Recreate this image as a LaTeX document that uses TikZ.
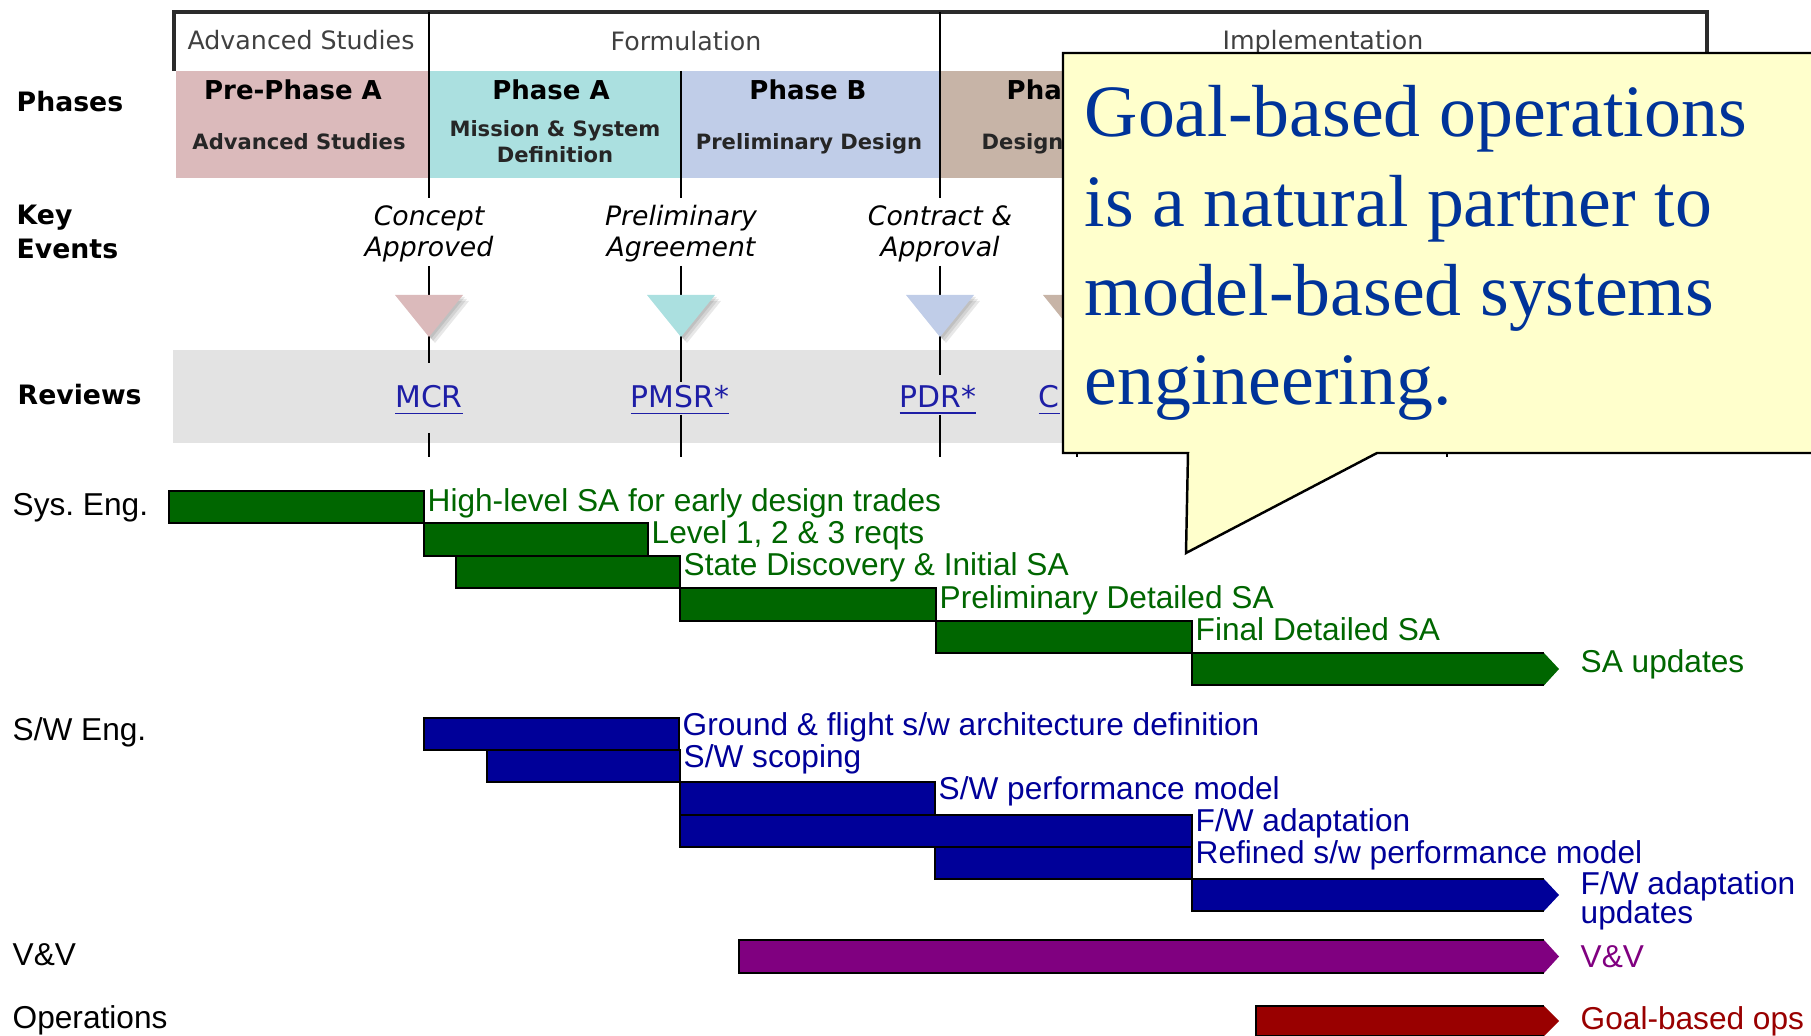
\documentclass[tikz,border=0pt]{standalone}
\usepackage{fontspec}
\setmainfont{Liberation Sans}
\newfontfamily\hdfont{DejaVu Sans}
\newfontfamily\callfont{Liberation Serif}
\definecolor{prephase}{HTML}{DBBABB}
\definecolor{phasea}{HTML}{ABE0E0}
\definecolor{phaseb}{HTML}{C0CDE8}
\definecolor{phasec}{HTML}{C7B4A7}
\definecolor{revgray}{HTML}{E3E3E3}
\definecolor{revblue}{HTML}{1E1EA6}
\definecolor{hdline}{HTML}{2B2B2B}
\definecolor{sysgreen}{HTML}{006600}
\definecolor{swblue}{HTML}{000099}
\definecolor{vvpurple}{HTML}{800080}
\definecolor{opsred}{HTML}{990000}
\definecolor{callfill}{HTML}{FFFFCC}
\definecolor{callink}{HTML}{003399}
\usepackage{tikz}

\begin{document}
\begin{tikzpicture}[
  x=0.1mm, y=-0.1mm,
  hdr/.style={font=\hdfont\fontsize{7.2}{8}\selectfont, text=black!75, anchor=base, inner sep=0pt},
  phase/.style={font=\hdfont\bfseries\fontsize{7.4}{8}\selectfont, anchor=base, inner sep=0pt},
  sub/.style={font=\hdfont\bfseries\fontsize{6}{7}\selectfont, text=black!85, anchor=base, inner sep=0pt},
  rowhd/.style={font=\hdfont\bfseries\fontsize{7.6}{8}\selectfont, anchor=base west, inner sep=0pt},
  event/.style={font=\hdfont\itshape\fontsize{7.6}{8}\selectfont, anchor=base, inner sep=0pt},
  review/.style={font=\hdfont\fontsize{8.5}{9}\selectfont, text=revblue, anchor=base, inner sep=0pt},
  evline/.style={line width=0.8pt},
  lbl/.style={font=\fontsize{9}{10}\selectfont, anchor=base west, inner sep=0pt},
  bar/.style={fill=#1, draw=black, line width=0.6pt},
  calltxt/.style={font=\callfont\fontsize{21}{25}\selectfont, text=callink, anchor=base west, inner sep=0pt},
]
\useasboundingbox (0,0) rectangle (1811,1036);
\clip (0,0) rectangle (1811,1036);

% Phases
\fill[prephase] (176,71) rectangle (429,178);
\fill[phasea] (429,71) rectangle (681,178);
\fill[phaseb] (681,71) rectangle (940,178);
\fill[phasec] (940,71) rectangle (1450,178);
\draw[hdline, line width=0.9pt] (174,71) -- (174,12) -- (1707,12) -- (1707,60);
\node[hdr] (advhd) at (301,50) {Advanced Studies};
\node[hdr] (formhd) at (686,51) {Formulation};
\node[hdr] (implhd) at (1323,50) {Implementation};

\node[phase] (pre) at (293,100) {Pre-Phase A};
\node[sub] (presub) at (299,150) {Advanced Studies};
\node[phase] (pa) at (551,100) {Phase A};
\node[sub] (pasub) at (555,137) {Mission \& System};
\node[sub] (pasub2) at (555,163) {Definition};
\node[phase] (pb) at (808,100) {Phase B};
\node[sub] (pbsub) at (809,150) {Preliminary Design};
\node[phase, anchor=base west] (pc) at (1006,100) {Pha};
\node[sub, anchor=base west] (pcsub) at (981,150) {Design};

\node[rowhd] (phases) at (16,112) {Phases};
\node[rowhd] (key) at (16,225) {Key};
\node[rowhd] (events) at (16,259) {Events};
\node[rowhd] (reviews) at (17,405) {Reviews};

% Reviews band
\fill[revgray] (173,350) rectangle (1450,443);

% Event lines
\draw[evline] (429,12) -- (429,198);
\draw[evline] (940,12) -- (940,198);
\draw[evline] (681,71) -- (681,198);
\draw[evline] (1447,71) -- (1447,457);
\foreach \x/\ya/\yb in {429/363/433, 681/382/415, 940/375/415, 1077/375/415} {
  \draw[evline] (\x,266) -- (\x,\ya);
  \draw[evline] (\x,\yb) -- (\x,457);
}

% Key events
\foreach \x/\c in {429/prephase, 681/phasea, 940/phaseb, 1077/phasec} {
  \foreach \s in {2,4,6}
    \fill[black, opacity=0.09] (\x-34+\s,295+\s) -- (\x+34+\s,295+\s) -- (\x+\s,337+\s) -- cycle;
  \fill[\c] (\x-34,295) -- (\x+34,295) -- (\x,337) -- cycle;
}
\node[event] (concept) at (429,226) {Concept};
\node[event] (approved) at (429,257) {Approved};
\node[event] (prelim) at (681,226) {Preliminary};
\node[event] (agree) at (681,257) {Agreement};
\node[event] (contract) at (940,226) {Contract \&};
\node[event] (approval) at (940,257) {Approval};

% Reviews
\node[review] (mcr) at (429,408) {\underline{MCR}};
\node[review] (pmsr) at (680,408) {\underline{PMSR*}};
\node[review] (pdr) at (938,408) {\underline{PDR*}};
\node[review, anchor=base west] (cdr) at (1038,408) {\underline{C}};

% Sys. Eng.
\node[lbl] (syseng) at (12,515) {Sys.\ Eng.};
\foreach \xa/\xb/\r/\txt in {169/424/0/{High-level SA for early design trades}, 424/648/1/{Level 1, 2 \& 3 reqts}, 456/680/2/{State Discovery \& Initial SA}, 680/936/3/{Preliminary Detailed SA}, 936/1192/4/{Final Detailed SA}} {
  \filldraw[bar=sysgreen] (\xa,491+32.4*\r) rectangle (\xb,523.4+32.4*\r);
  \node[lbl, text=sysgreen] (sys\r) at (\xb+3,511+32.4*\r) {\txt};
}
\fill[sysgreen] (1192,653) -- (1544,653) -- (1559,669) -- (1544,685.4) -- (1192,685.4) -- cycle;
\draw[line width=0.6pt] (1544,653) -- (1192,653) -- (1192,685.4) -- (1544,685.4);
\node[lbl, text=sysgreen] (sysupd) at (1580,672) {SA updates};

% S/W Eng.
\node[lbl] (sweng) at (12,740) {S/W Eng.};
\foreach \xa/\xb/\r/\txt in {424/679/0/{Ground \& flight s/w architecture definition}, 487/680/1/{S/W scoping}, 680/935/2/{S/W performance model}, 680/1192/3/{F/W adaptation}, 935/1192/4/{Refined s/w performance model}} {
  \filldraw[bar=swblue] (\xa,718+32.2*\r) rectangle (\xb,750.2+32.2*\r);
  \node[lbl, text=swblue] (sw\r) at (\xb+3,735+32.2*\r) {\txt};
}
\fill[swblue] (1192,879) -- (1544,879) -- (1559,895) -- (1544,911) -- (1192,911) -- cycle;
\draw[line width=0.6pt] (1544,879) -- (1192,879) -- (1192,911) -- (1544,911);
\node[lbl, text=swblue] (swupd) at (1580,894) {F/W adaptation};
\node[lbl, text=swblue] (swupd2) at (1580,923) {updates};

% V&V
\node[lbl] (vv) at (12,965) {V\&V};
\fill[vvpurple] (739,940) -- (1544,940) -- (1559,956.5) -- (1544,973) -- (739,973) -- cycle;
\draw[line width=0.6pt] (1544,940) -- (739,940) -- (739,973) -- (1544,973);
\node[lbl, text=vvpurple] (vvlbl) at (1580,967) {V\&V};

% Operations
\node[lbl] (ops) at (12,1028) {Operations};
\fill[opsred] (1256,1006) -- (1544,1006) -- (1559,1021) -- (1544,1036) -- (1256,1036) -- cycle;
\draw[line width=0.6pt] (1544,1006) -- (1256,1006) -- (1256,1036) -- (1544,1036);
\node[lbl, text=opsred] (opslbl) at (1580,1029) {Goal-based ops};

% Callout
\filldraw[fill=callfill, draw=black, line width=0.7pt] (1063,53) -- (1830,53) -- (1830,453) -- (1377,453) -- (1186,553) -- (1188,453) -- (1063,453) -- cycle;
\foreach \i/\txt in {0/Goal-based operations, 1/is a natural partner to, 2/model-based systems, 3/engineering.} {
  \node[calltxt] (call\i) at (1084,137+89.3*\i) {\txt};
}
\end{tikzpicture}
\end{document}
